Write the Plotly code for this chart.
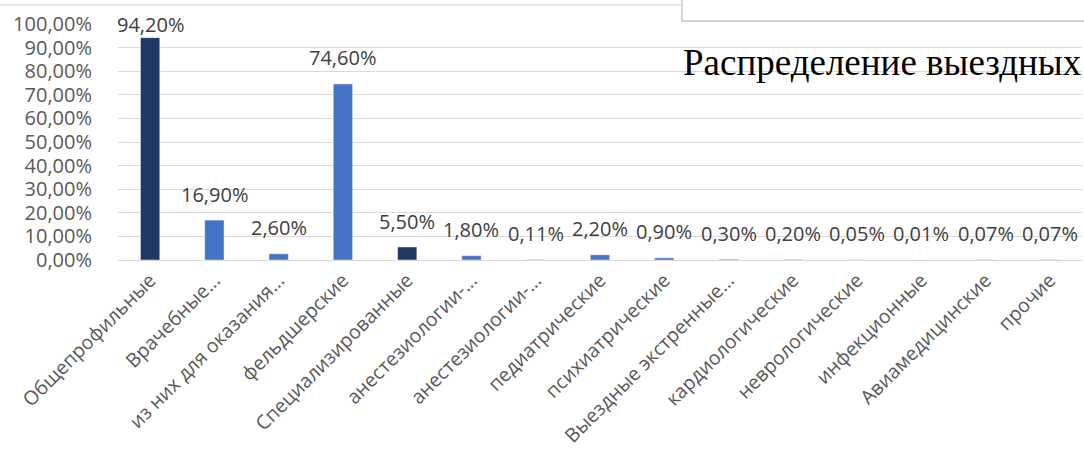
import plotly.graph_objects as go

categories = [
    "Общепрофильные", "Врачебные...", "из них для оказания...", "фельдшерские",
    "Специализированные", "анестезиологии-...", "анестезиологии-...", "педиатрические",
    "психиатрические", "Выездные экстренные...", "кардиологические", "неврологические",
    "инфекционные", "Авиамедицинские", "прочие",
]
values = [0.942, 0.169, 0.026, 0.746, 0.055, 0.018, 0.0011, 0.022, 0.009, 0.003,
          0.002, 0.0005, 0.0001, 0.0007, 0.0007]
labels = ["94,20%", "16,90%", "2,60%", "74,60%", "5,50%", "1,80%", "0,11%", "2,20%",
          "0,90%", "0,30%", "0,20%", "0,05%", "0,01%", "0,07%", "0,07%"]
dark = "#203864"
light = "#4472C4"
colors = [dark, light, light, light, dark, light, light, light, light, light,
          light, light, light, light, light]
y_ticks = [i / 10 for i in range(11)]

W, H = 1084, 455
L, R, T, B = 118, 2, 24, 195
pw, ph = W - L - R, H - T - B

def px(x):
    return (x - L) / pw

def py(y):
    return (H - B - y) / ph

xs = list(range(len(categories)))

fig = go.Figure(go.Bar(
    x=xs, y=values, marker_color=colors, width=0.3,
))

annotations = []
for xi, v, lab in zip(xs, values, labels):
    annotations.append(dict(
        x=xi, y=v, text=lab, showarrow=False, xanchor="center", yanchor="middle",
        yshift=13 if v > 0.9 else 26,
        font=dict(family="Open Sans", size=20, color="#404040"),
    ))

annotations.append(dict(
    text="Распределение выездных", xref="paper", yref="paper", x=px(681), y=py(62),
    xanchor="left", yanchor="middle", showarrow=False,
    font=dict(family="Liberation Serif", size=37, color="black"),
))

fig.update_layout(
    width=W, height=H,
    margin=dict(l=L, r=R, t=T, b=B, pad=0),
    paper_bgcolor="white", plot_bgcolor="white",
    separators=", ",
    showlegend=False,
    xaxis=dict(
        tickmode="array", tickvals=xs, ticktext=categories, tickangle=-45,
        tickfont=dict(family="Open Sans", size=19.5, color="#595959"),
        showgrid=False, zeroline=False, showline=False, range=[-0.5, len(categories) - 0.5],
        ticks="", automargin=False, ticklabelstandoff=4,
    ),
    yaxis=dict(
        range=[0, 1], tickvals=y_ticks, tickformat=".2%",
        tickfont=dict(family="Open Sans", size=20, color="#595959"),
        showgrid=True, gridcolor="#D9D9D9", gridwidth=1,
        zeroline=True, zerolinecolor="#D9D9D9", zerolinewidth=1,
        ticklabelstandoff=25, showline=False, automargin=False,
    ),
    shapes=[
        dict(type="line", xref="paper", yref="paper", x0=px(0), x1=px(682), y0=py(5), y1=py(5),
             line=dict(color="#D0D0D0", width=1)),
        dict(type="rect", xref="paper", yref="paper", x0=px(682), x1=px(1090), y0=py(21), y1=py(-3),
             line=dict(color="#C8C8C8", width=1.5), fillcolor="white"),
    ],
    annotations=annotations,
)

fig.write_html("out.html", config={"displayModeBar": False},
               post_script="document.body.style.margin='0';document.body.style.padding='0';")
